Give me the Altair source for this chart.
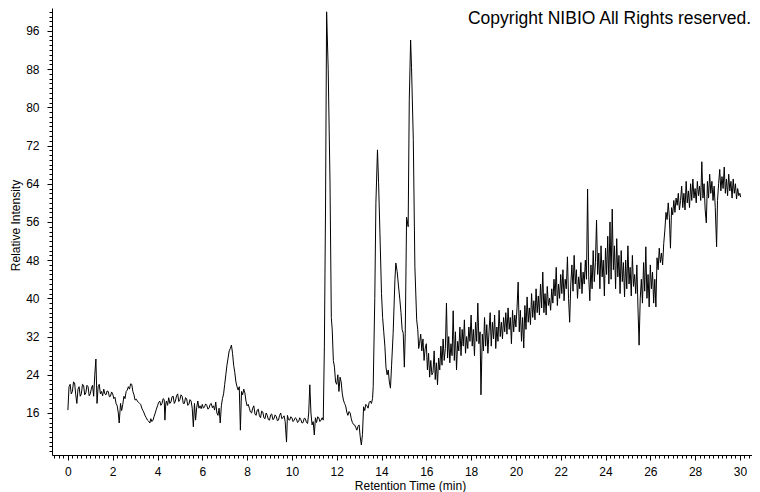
import altair as alt
import pandas as pd

# ---- chromatogram trace (retention time [min], relative intensity) ----
seg_00_02 = [(0.00,16.6),(0.05,21.5),(0.10,22.0),(0.15,20.0),(0.20,20.5),(0.25,22.5),(0.30,22.3),(0.35,19.8),
             (0.40,18.0),(0.45,21.0),(0.50,21.5),(0.55,19.5),(0.60,20.0),(0.65,22.0),(0.70,21.8),(0.75,19.8),
             (0.80,20.2),(0.85,21.8),(0.90,21.5),(0.95,19.6),(1.00,20.0),(1.05,21.2),(1.10,21.8),(1.15,19.5),
             (1.20,24.0),(1.25,27.3),(1.30,18.0),(1.35,21.5),(1.40,22.0),(1.45,20.0),(1.50,20.5),(1.55,19.6),
             (1.60,21.0),(1.65,20.0),(1.70,19.8),(1.75,20.6),(1.80,20.5),(1.85,19.4),(1.90,19.5),(1.95,20.4),(2.00,20.0)]
seg_02_04 = [(2.05,19.0),(2.10,19.3),(2.15,18.0),(2.20,17.5),(2.25,16.0),(2.29,13.9),(2.35,18.0),(2.40,16.5),
             (2.45,17.8),(2.50,19.5),(2.55,19.0),(2.60,20.5),(2.65,20.8),(2.70,21.5),(2.75,21.0),(2.80,22.1),
             (2.85,22.0),(2.90,20.5),(2.95,19.8),(3.00,18.7),(3.05,18.9),(3.10,18.5),(3.15,18.2),(3.20,18.0),
             (3.25,17.8),(3.30,17.0),(3.35,16.5),(3.40,16.0),(3.45,15.4),(3.50,15.0),(3.55,14.5),(3.60,14.3),
             (3.66,13.9),(3.70,14.8),(3.75,14.2),(3.80,14.5),(3.85,15.3),(3.90,16.0),(3.95,16.8),(4.00,17.5)]
seg_04_06 = [(4.05,18.2),(4.10,18.5),(4.15,17.6),(4.20,18.0),(4.25,19.0),(4.30,18.8),(4.33,14.5),(4.37,18.0),
             (4.40,18.5),(4.45,17.6),(4.50,19.2),(4.55,18.0),(4.60,18.3),(4.65,19.4),(4.70,19.5),(4.75,18.0),
             (4.80,18.5),(4.85,19.6),(4.90,20.0),(4.95,18.4),(5.00,18.8),(5.05,19.8),(5.10,19.5),(5.15,18.0),
             (5.20,18.0),(5.25,19.2),(5.30,19.0),(5.35,17.6),(5.40,17.8),(5.45,18.8),(5.50,18.5),(5.55,17.0),
             (5.60,13.1),(5.65,18.0),(5.70,14.5),(5.75,17.2),(5.80,18.5),(5.85,17.0),(5.90,17.5),(5.95,16.9),(6.00,17.8)]
seg_06_08 = [(6.05,17.0),(6.10,17.3),(6.15,17.9),(6.20,17.6),(6.25,16.8),(6.30,17.0),(6.35,17.8),(6.40,18.0),
             (6.45,17.1),(6.50,17.5),(6.55,16.6),(6.60,18.3),(6.65,16.0),(6.70,15.5),(6.75,17.0),(6.80,13.9),
             (6.85,17.5),(6.90,19.0),(6.95,20.0),(7.00,22.0),(7.05,24.0),(7.10,26.0),(7.15,27.5),(7.20,29.0),
             (7.25,29.5),(7.30,30.2),(7.35,28.5),(7.40,26.0),(7.45,24.5),(7.50,22.5),(7.55,21.5),(7.60,20.8),
             (7.65,21.5),(7.70,12.4),(7.75,20.5),(7.80,19.8),(7.85,21.0),(7.90,20.2),(7.95,18.5),(8.00,17.5)]
seg_08_10 = [(8.05,17.8),(8.10,17.0),(8.15,16.2),(8.20,16.0),(8.25,17.0),(8.30,17.5),(8.35,15.8),(8.40,15.5),
             (8.45,16.6),(8.50,16.8),(8.55,15.4),(8.60,15.0),(8.65,16.4),(8.70,16.2),(8.75,15.0),(8.80,14.8),
             (8.85,16.0),(8.90,15.5),(8.95,14.6),(9.00,14.5),(9.05,15.6),(9.10,15.8),(9.15,14.6),(9.20,14.8),
             (9.25,15.6),(9.30,15.3),(9.35,14.4),(9.40,14.5),(9.45,15.5),(9.50,16.0),(9.55,14.8),(9.60,15.0),
             (9.65,15.4),(9.70,14.2),(9.76,9.9),(9.80,15.5),(9.85,14.6),(9.90,14.5),(9.95,15.2),(10.00,15.0)]
seg_10_12 = [(10.05,14.2),(10.10,14.5),(10.15,15.0),(10.20,14.8),(10.25,14.0),(10.30,14.2),(10.35,15.0),(10.40,14.6),
             (10.45,13.9),(10.50,14.0),(10.55,14.9),(10.60,14.8),(10.65,14.0),(10.70,13.8),(10.75,16.0),(10.80,21.9),
             (10.85,16.0),(10.90,13.5),(10.95,14.2),(11.00,11.4),(11.05,15.0),(11.10,14.0),(11.15,15.2),(11.20,15.0),
             (11.25,14.2),(11.30,14.5),(11.35,15.0),(11.40,14.5),(11.45,30.0),(11.50,58.5),(11.55,100.0),(11.62,88.0),
             (11.70,64.8),(11.76,36.0),(11.80,33.4),(11.85,27.0),(11.90,25.6),(11.95,22.5),(12.00,22.0)]
seg_12_14 = [(12.05,24.0),(12.10,20.5),(12.15,23.5),(12.20,22.5),(12.25,20.0),(12.30,18.7),(12.35,18.0),(12.40,17.5),
             (12.45,16.2),(12.50,15.5),(12.55,16.3),(12.60,16.0),(12.65,14.8),(12.70,14.0),(12.75,13.6),(12.80,13.5),
             (12.85,13.0),(12.90,12.4),(12.95,13.2),(13.00,13.5),(13.05,11.0),(13.10,9.3),(13.15,11.5),(13.20,17.3),
             (13.25,16.5),(13.30,17.8),(13.35,17.5),(13.40,17.0),(13.45,18.2),(13.50,18.5),(13.55,18.0),(13.60,19.0),
             (13.63,21.5),(13.70,40.0),(13.75,60.0),(13.82,71.1),(13.87,64.2),(13.93,53.7),(14.00,41.0)]
seg_14_16 = [(14.05,36.0),(14.10,33.0),(14.15,30.0),(14.20,25.6),(14.25,24.0),(14.30,25.0),(14.35,22.5),(14.40,21.2),
             (14.45,26.0),(14.52,32.7),(14.60,44.0),(14.64,47.4),(14.70,45.6),(14.75,43.0),(14.82,39.7),(14.87,37.0),
             (14.92,33.5),(14.97,32.7),(15.02,25.6),(15.06,32.7),(15.12,57.0),(15.19,55.0),(15.24,81.5),(15.30,94.1),
             (15.34,88.4),(15.42,73.2),(15.49,46.6),(15.57,35.5),(15.62,33.4),(15.66,29.5),(15.70,30.6),(15.75,32.5),
             (15.80,29.0),(15.85,31.5),(15.90,27.0),(15.95,29.5),(16.00,30.5)]
seg_16_18 = [(16.05,25.0),(16.10,28.5),(16.15,23.5),(16.20,27.0),(16.25,24.0),(16.30,24.5),(16.35,29.0),(16.40,23.0),
             (16.45,26.5),(16.50,21.9),(16.55,27.5),(16.60,25.0),(16.65,30.0),(16.70,26.0),(16.75,31.5),(16.80,27.0),
             (16.85,29.5),(16.90,39.0),(16.95,27.5),(17.00,32.0),(17.05,26.5),(17.10,30.5),(17.15,28.0),(17.20,37.4),
             (17.25,27.0),(17.30,33.0),(17.35,25.0),(17.40,31.0),(17.45,29.0),(17.50,34.0),(17.55,28.0),(17.60,33.5),
             (17.65,30.0),(17.70,35.5),(17.75,28.5),(17.80,32.0),(17.85,29.5),(17.90,34.0),(17.95,31.0),(18.00,36.5)]
seg_18_20 = [(18.05,30.0),(18.10,33.5),(18.15,28.0),(18.20,35.0),(18.25,31.0),(18.30,39.0),(18.35,30.5),(18.40,33.0),
             (18.44,19.8),(18.50,32.5),(18.55,29.0),(18.60,36.0),(18.65,30.0),(18.70,34.5),(18.75,28.5),(18.80,33.0),
             (18.85,37.0),(18.90,30.0),(18.95,35.0),(19.00,31.5),(19.05,36.5),(19.10,29.5),(19.15,34.0),(19.20,31.0),
             (19.25,37.5),(19.30,32.0),(19.35,35.0),(19.40,31.5),(19.45,36.0),(19.50,33.0),(19.55,37.0),(19.60,32.5),
             (19.65,38.0),(19.70,33.5),(19.75,36.0),(19.80,30.5),(19.85,37.5),(19.90,33.0),(19.95,36.5),(20.00,34.0)]
seg_20_22 = [(20.05,38.0),(20.10,43.4),(20.15,33.0),(20.20,37.5),(20.25,31.0),(20.30,36.0),(20.35,29.6),(20.40,38.5),
             (20.45,33.5),(20.50,40.3),(20.55,35.0),(20.60,38.0),(20.65,34.5),(20.70,41.0),(20.75,36.0),(20.80,39.5),
             (20.85,35.5),(20.90,42.0),(20.95,37.0),(21.00,40.5),(21.05,36.5),(21.10,43.0),(21.15,38.0),(21.20,45.5),
             (21.25,37.0),(21.30,41.0),(21.35,36.5),(21.40,42.5),(21.45,38.5),(21.50,40.0),(21.55,37.5),(21.60,42.0),
             (21.65,39.0),(21.70,44.0),(21.75,40.5),(21.80,46.5),(21.85,38.5),(21.90,43.0),(21.95,40.0),(22.00,45.0)]
seg_22_24 = [(22.05,41.0),(22.10,46.0),(22.15,39.5),(22.20,44.0),(22.25,42.0),(22.30,48.7),(22.35,40.0),(22.40,35.0),
             (22.45,43.0),(22.50,47.0),(22.55,41.5),(22.60,49.0),(22.65,43.0),(22.70,46.0),(22.75,40.0),(22.80,44.5),
             (22.85,42.0),(22.90,47.5),(22.95,41.0),(23.00,45.5),(23.05,43.0),(23.10,48.0),(23.15,44.0),(23.20,62.9),
             (23.25,44.5),(23.30,39.5),(23.35,47.0),(23.40,42.0),(23.45,50.0),(23.50,43.5),(23.55,47.5),(23.60,56.4),
             (23.65,45.0),(23.70,49.5),(23.75,42.0),(23.80,51.0),(23.85,44.5),(23.90,48.0),(23.95,40.5),(24.00,50.5)]
seg_24_26 = [(24.05,45.0),(24.10,53.0),(24.15,43.0),(24.20,56.0),(24.25,44.0),(24.30,58.7),(24.35,46.0),(24.40,51.0),
             (24.45,42.0),(24.50,52.5),(24.55,44.5),(24.60,49.0),(24.65,41.0),(24.70,50.0),(24.75,43.5),(24.80,47.5),
             (24.85,40.3),(24.90,48.0),(24.95,42.0),(25.00,51.0),(25.05,43.0),(25.10,46.5),(25.15,40.5),(25.20,49.0),
             (25.25,42.5),(25.30,45.0),(25.35,41.0),(25.40,47.0),(25.45,38.0),(25.50,30.2),(25.55,40.0),(25.60,44.0),
             (25.65,39.0),(25.70,47.5),(25.75,41.5),(25.80,50.8),(25.85,40.0),(25.90,45.0),(25.95,38.2),(26.00,47.0)]
seg_26_28 = [(26.05,42.0),(26.10,45.5),(26.15,39.0),(26.20,44.0),(26.25,38.2),(26.30,48.5),(26.35,46.0),(26.40,50.5),
             (26.45,47.5),(26.50,49.5),(26.55,47.0),(26.60,51.5),(26.65,54.3),(26.70,58.0),(26.75,56.5),(26.80,60.0),
             (26.85,57.0),(26.90,50.5),(26.95,59.0),(27.00,57.5),(27.05,60.5),(27.10,58.0),(27.15,61.0),(27.20,59.5),
             (27.25,62.0),(27.30,58.5),(27.35,60.5),(27.40,63.5),(27.45,59.0),(27.50,62.0),(27.55,58.5),(27.60,64.5),
             (27.65,60.0),(27.70,62.5),(27.75,59.0),(27.80,64.0),(27.85,60.5),(27.90,65.0),(27.95,61.0),(28.00,63.0)]
seg_28_30 = [(28.05,60.0),(28.10,64.5),(28.15,61.5),(28.20,63.5),(28.25,60.5),(28.30,68.6),(28.35,61.0),(28.40,64.0),
             (28.45,58.5),(28.50,55.8),(28.55,64.5),(28.60,61.0),(28.65,66.0),(28.70,62.0),(28.75,64.5),(28.80,60.5),
             (28.85,63.5),(28.90,59.0),(28.96,50.8),(29.00,60.5),(29.05,64.0),(29.10,67.0),(29.15,62.5),(29.20,65.5),
             (29.25,63.0),(29.30,67.5),(29.35,62.0),(29.40,65.0),(29.45,61.5),(29.50,66.0),(29.55,62.5),(29.60,64.5),
             (29.65,61.0),(29.70,65.0),(29.75,62.0),(29.80,64.0),(29.85,60.8),(29.90,63.0),(29.95,61.5),(30.00,62.0),(30.03,61.2)]

segments = [seg_00_02, seg_02_04, seg_04_06, seg_06_08, seg_08_10, seg_10_12, seg_12_14, seg_14_16,
            seg_16_18, seg_18_20, seg_20_22, seg_22_24, seg_24_26, seg_26_28, seg_28_30]
points = [p for seg in segments for p in seg]
df = pd.DataFrame(points, columns=["time", "intensity"])

x_major_ticks = list(range(0, 31, 2))
y_major_ticks = list(range(16, 97, 8))
x_minor_ticks = [round(-0.6 + 0.2 * i, 1) for i in range(156)]
y_minor_ticks = list(range(8, 101))
X_DOMAIN = [-0.71, 30.54]
Y_DOMAIN = [7.2, 100.8]
copyright_text = ["Copyright NIBIO All Rights reserved."]

FONT = "Liberation Sans"
xs = alt.Scale(domain=X_DOMAIN, nice=False, zero=False)
ys = alt.Scale(domain=Y_DOMAIN, nice=False, zero=False)

minor = alt.Chart(df).mark_line(strokeOpacity=0).encode(
    x=alt.X("time:Q", scale=xs, axis=alt.Axis(orient="bottom", values=x_minor_ticks, labels=False, title=None,
                                               tickSize=3, domain=False, grid=False, tickColor="black")),
    y=alt.Y("intensity:Q", scale=ys, axis=alt.Axis(orient="left", values=y_minor_ticks, labels=False, title=None,
                                                    tickSize=3, domain=False, grid=False, tickColor="black")),
)

line = alt.Chart(df).mark_line(color="black", strokeWidth=1, clip=True).encode(
    x=alt.X("time:Q", scale=xs, axis=alt.Axis(
        orient="bottom", values=x_major_ticks, format="d", title="Retention Time (min)",
        tickSize=5, labelPadding=6, grid=False, labelFlush=False,
        domainColor="black", tickColor="black", labelColor="black", titleColor="black",
        labelFont=FONT, labelFontSize=12, titleFont=FONT, titleFontSize=12, titleFontWeight="normal",
        titleBaseline="alphabetic", titleAlign="center", titleX=358, titleY=34)),
    y=alt.Y("intensity:Q", scale=ys, axis=alt.Axis(
        orient="left", values=y_major_ticks, format="d", title="Relative Intensity",
        tickSize=5, labelPadding=8, grid=False, labelFlush=False,
        domainColor="black", tickColor="black", labelColor="black", titleColor="black",
        labelFont=FONT, labelFontSize=12, titleFont=FONT, titleFontSize=12, titleFontWeight="normal",
        titleAngle=270, titleBaseline="top", titleAlign="center", titleX=-42, titleY=217)),
)

note = alt.Chart(pd.DataFrame({"label": copyright_text})).mark_text(
    align="right", baseline="alphabetic", font=FONT, fontSize=17.5, color="black"
).encode(text="label:N", x=alt.value(699), y=alt.value(16))

chart = alt.layer(minor, line, note).resolve_scale(x="independent", y="independent").properties(
    width=700, height=447,
    padding={"left": 44, "top": 0, "right": 0, "bottom": 40},
    autosize="none",
    background="white",
).configure_view(stroke=None)

chart.save("out.html", embed_options={"renderer": "svg", "actions": False})
